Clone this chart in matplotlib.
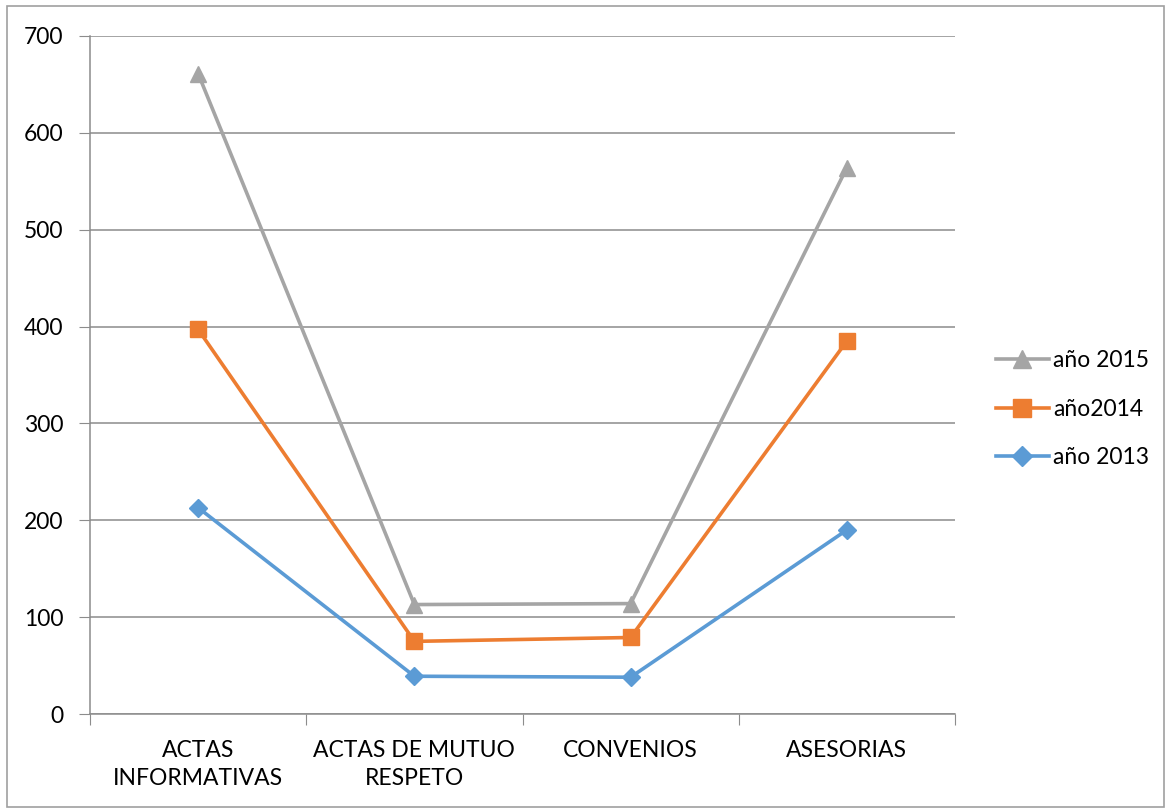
import matplotlib.pyplot as plt
from matplotlib.patches import Rectangle

# data
categories = ["ACTAS\nINFORMATIVAS", "ACTAS DE MUTUO\nRESPETO", "CONVENIOS", "ASESORIAS"]
y2013 = [213, 39, 38, 190]
y2014 = [397, 75, 79, 385]
y2015 = [661, 113, 114, 564]

plt.rcParams['font.family'] = ['Lato', 'DejaVu Sans']

fig = plt.figure(figsize=(11.71, 8.10), dpi=100)
ax = fig.add_axes([0.0769, 0.1185, 0.7386, 0.8371])

x = range(len(categories))
l13, = ax.plot(x, y2013, color="#5B9BD5", lw=2.6, marker="D", ms=9, label="año 2013")
l14, = ax.plot(x, y2014, color="#ED7D31", lw=2.6, marker="s", ms=12, label="año2014")
l15, = ax.plot(x, y2015, color="#A5A5A5", lw=2.6, marker="^", ms=12, label="año 2015")

ax.set_xlim(-0.5, 3.5)
ax.set_ylim(0, 700)
ax.set_yticks(range(0, 701, 100))
ax.yaxis.grid(True, color="#8C8C8C", lw=1.1)
ax.set_axisbelow(True)

ax.set_xticks([-0.5, 0.5, 1.5, 2.5, 3.5])
ax.set_xticklabels([])
ax.set_xticks(list(x), minor=True)
ax.set_xticklabels(categories, minor=True, fontsize=16.5, linespacing=1.4)
ax.tick_params(axis="x", which="minor", length=0, pad=19)
ax.tick_params(axis="x", which="major", length=8, color="#8C8C8C")
ax.tick_params(axis="y", length=8, color="#8C8C8C", labelsize=16.5, pad=11)

for s in ["top", "right"]:
    ax.spines[s].set_visible(False)
for s in ["left", "bottom"]:
    ax.spines[s].set_color("#8C8C8C")
    ax.spines[s].set_linewidth(1.1)

fig.legend(handles=[l15, l14, l13], loc="center left", bbox_to_anchor=(0.833, 0.495),
           frameon=False, fontsize=16.5, handlelength=2.3, labelspacing=1.2,
           handletextpad=0.2, markerscale=1.1)

fig.patches.append(Rectangle((0.006, 0.004), 0.988, 0.989, transform=fig.transFigure,
                             fill=False, edgecolor="#A0A0A0", lw=1.2))

fig.savefig("out.png", dpi=100)
